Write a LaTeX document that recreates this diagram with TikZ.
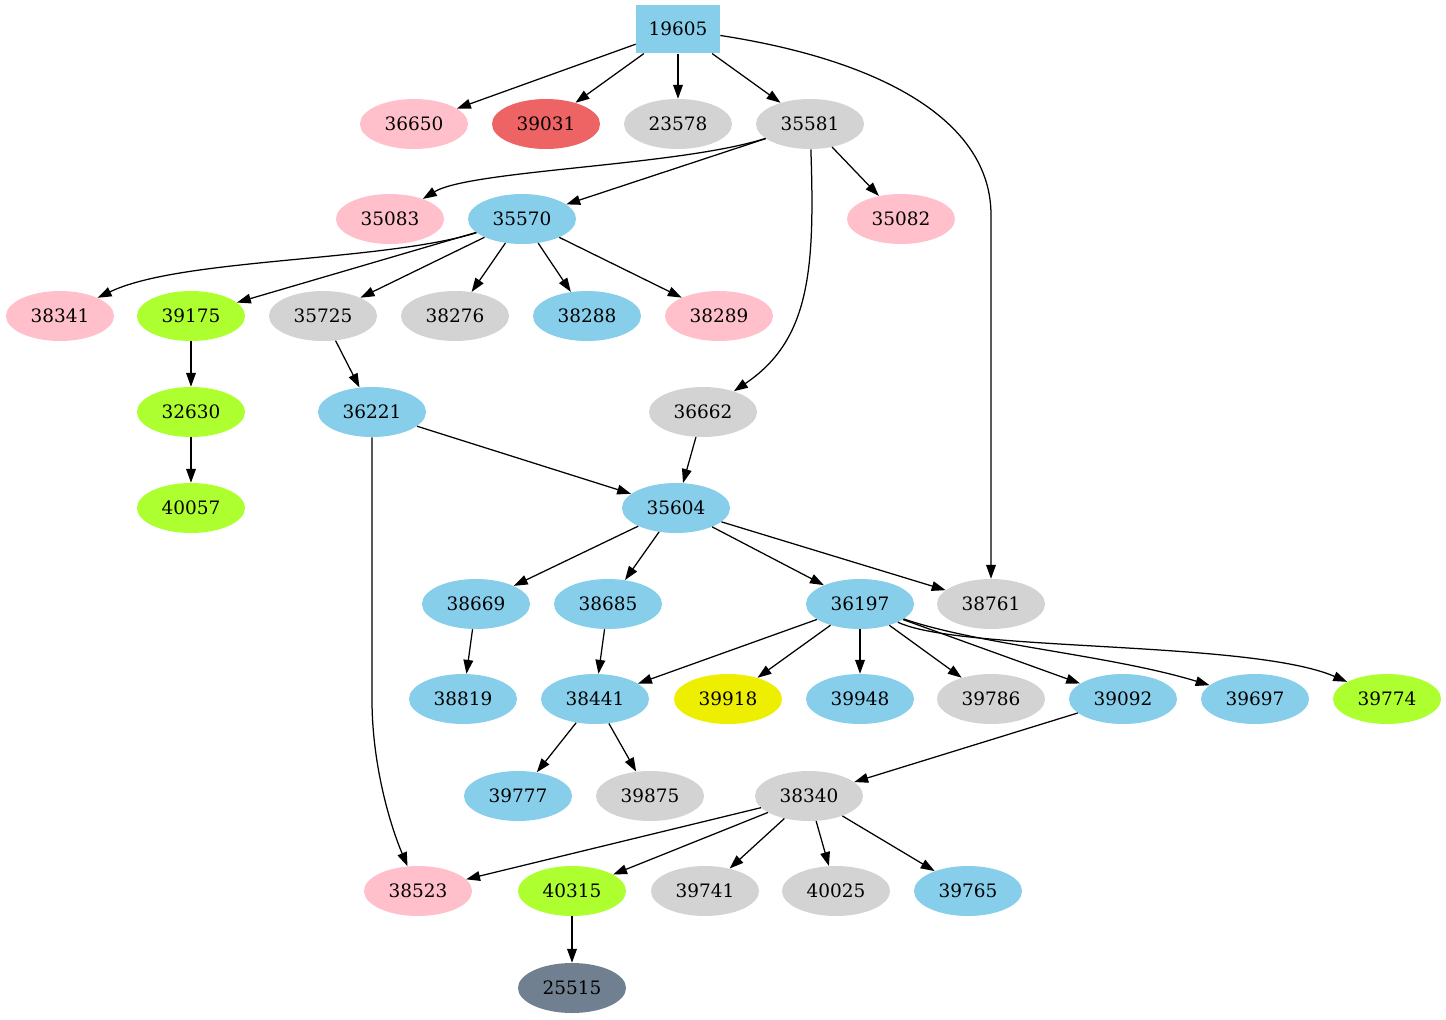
\documentclass[tikz,border=0pt]{standalone}
\usepackage{fontspec}
\setmainfont{DejaVu Serif}
\usetikzlibrary{arrows.meta,shapes.geometric}
\definecolor{cpink}{RGB}{255,192,203}
\definecolor{csky}{RGB}{135,206,235}
\definecolor{cgray}{RGB}{211,211,211}
\definecolor{cgreen}{RGB}{173,255,47}
\definecolor{cred}{RGB}{238,99,99}
\definecolor{cyel}{RGB}{238,238,0}
\definecolor{cslate}{RGB}{112,128,144}
\tikzset{
  nd/.style={ellipse,minimum width=77.8pt,minimum height=36pt,inner sep=0pt,font=\fontsize{13.3pt}{15pt}\selectfont},
  pk/.style={nd,fill=cpink},
  sk/.style={nd,fill=csky},
  gy/.style={nd,fill=cgray},
  gr/.style={nd,fill=cgreen},
  rd/.style={nd,fill=cred},
  yl/.style={nd,fill=cyel},
  sl/.style={nd,fill=cslate},
  edge/.style={draw=black,line width=0.9pt,-{Triangle[length=10pt,width=7pt]}}
}
\begin{document}
\begin{tikzpicture}[x=0.72pt,y=-0.72pt]
\useasboundingbox (0,0) rectangle (1446,1019);
\node[rectangle,fill=csky,minimum width=60.5pt,minimum height=35pt,inner sep=0pt,font=\fontsize{13.3pt}{15pt}\selectfont] (n19605) at (678,29) {19605};
\node[pk] (n36650) at (414,124) {36650};
\node[rd] (n39031) at (546,124) {39031};
\node[gy] (n23578) at (678,124) {23578};
\node[gy] (n35581) at (810,124) {35581};
\node[pk] (n35083) at (390,219) {35083};
\node[sk] (n35570) at (522,219) {35570};
\node[pk] (n35082) at (901,219) {35082};
\node[pk] (n38341) at (60,316) {38341};
\node[gr] (n39175) at (191,316) {39175};
\node[gy] (n35725) at (323,316) {35725};
\node[gy] (n38276) at (455,316) {38276};
\node[sk] (n38288) at (587,316) {38288};
\node[pk] (n38289) at (719,316) {38289};
\node[gr] (n32630) at (191,412) {32630};
\node[sk] (n36221) at (372,412) {36221};
\node[gy] (n36662) at (703,412) {36662};
\node[gr] (n40057) at (191,508) {40057};
\node[sk] (n35604) at (676,508) {35604};
\node[sk] (n38669) at (476,604) {38669};
\node[sk] (n38685) at (608,604) {38685};
\node[sk] (n36197) at (860,604) {36197};
\node[gy] (n38761) at (991,604) {38761};
\node[sk] (n38819) at (463,699) {38819};
\node[sk] (n38441) at (595,699) {38441};
\node[yl] (n39918) at (728,699) {39918};
\node[sk] (n39948) at (860,699) {39948};
\node[gy] (n39786) at (991,699) {39786};
\node[sk] (n39092) at (1123,699) {39092};
\node[sk] (n39697) at (1255,699) {39697};
\node[gr] (n39774) at (1387,699) {39774};
\node[sk] (n39777) at (518,796) {39777};
\node[gy] (n39875) at (650,796) {39875};
\node[gy] (n38340) at (809,796) {38340};
\node[pk] (n38523) at (418,891) {38523};
\node[gr] (n40315) at (572,891) {40315};
\node[gy] (n39741) at (705,891) {39741};
\node[gy] (n40025) at (836,891) {40025};
\node[sk] (n39765) at (968,891) {39765};
\node[sl] (n25515) at (572,988) {25515};
% edges
\draw[edge] (n19605) -- (n36650);
\draw[edge] (n19605) -- (n39031);
\draw[edge] (n19605) -- (n23578);
\draw[edge] (n19605) -- (n35581);
\draw[edge] (n19605) .. controls (880,60) and (991,120) .. (991,215) -- (n38761);
\draw[edge] (n35581) .. controls (680,166) and (470,170) .. (n35083);
\draw[edge] (n35581) -- (n35570);
\draw[edge] (n35581) -- (n35082);
\draw[edge] (n35581) .. controls (815,270) and (810,340) .. (n36662);
\draw[edge] (n35570) .. controls (380,262) and (180,258) .. (n38341);
\draw[edge] (n35570) -- (n39175);
\draw[edge] (n35570) -- (n35725);
\draw[edge] (n35570) -- (n38276);
\draw[edge] (n35570) -- (n38288);
\draw[edge] (n35570) -- (n38289);
\draw[edge] (n39175) -- (n32630);
\draw[edge] (n32630) -- (n40057);
\draw[edge] (n35725) -- (n36221);
\draw[edge] (n36221) -- (n35604);
\draw[edge] (n36221) -- (372,700) .. controls (372,760) and (388,820) .. (n38523);
\draw[edge] (n36662) -- (n35604);
\draw[edge] (n35604) -- (n38669);
\draw[edge] (n35604) -- (n38685);
\draw[edge] (n35604) -- (n36197);
\draw[edge] (n35604) -- (n38761);
\draw[edge] (n38669) -- (n38819);
\draw[edge] (n38685) -- (n38441);
\draw[edge] (n36197) -- (n38441);
\draw[edge] (n36197) -- (n39918);
\draw[edge] (n36197) -- (n39948);
\draw[edge] (n36197) -- (n39786);
\draw[edge] (n36197) -- (n39092);
\draw[edge] (n36197) .. controls (980,645) and (1110,655) .. (n39697);
\draw[edge] (n36197) .. controls (960,652) and (1250,640) .. (n39774);
\draw[edge] (n38441) -- (n39777);
\draw[edge] (n38441) -- (n39875);
\draw[edge] (n39092) -- (n38340);
\draw[edge] (n38340) -- (n38523);
\draw[edge] (n38340) -- (n40315);
\draw[edge] (n38340) -- (n39741);
\draw[edge] (n38340) -- (n40025);
\draw[edge] (n38340) -- (n39765);
\draw[edge] (n40315) -- (n25515);
\end{tikzpicture}
\end{document}
